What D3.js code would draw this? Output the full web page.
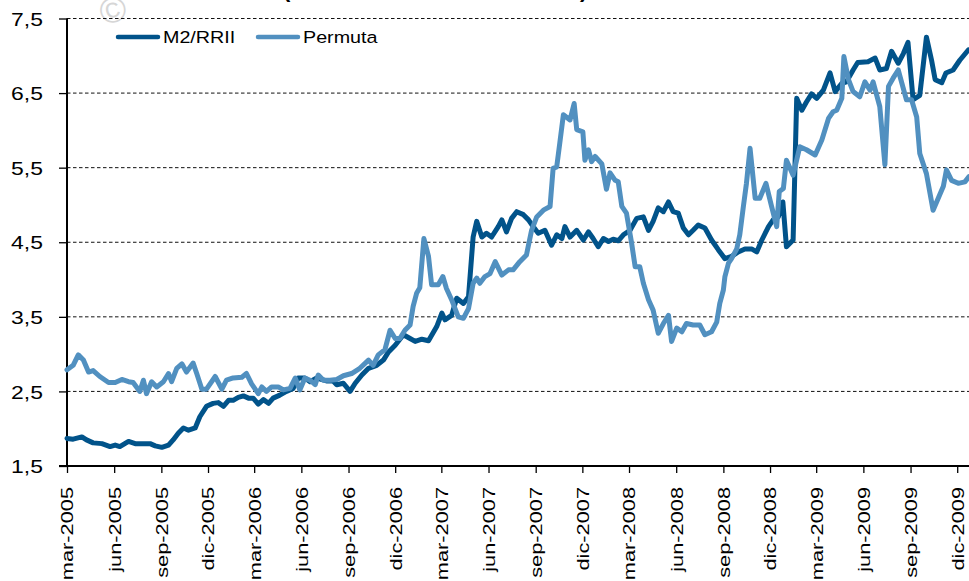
<!DOCTYPE html>
<html lang="es">
<head>
<meta charset="UTF-8">
<title>M2/RRII y Permuta</title>
<script src="https://d3js.org/d3.v7.min.js"></script>
<style>
  body { margin: 0; background: #fff; }
  svg { display: block; font-family: "Liberation Sans", Arial, sans-serif; }
</style>
</head>
<body>
<svg width="969" height="581"></svg>
<script>
// series names and colours (legend order)
const seriesNames = ["M2/RRII", "Permuta"];
const seriesColors = ["#01538a", "#5190c0"];

// M2/RRII
const m2Dates = ["2005-03-01","2005-03-13","2005-03-30","2005-04-08","2005-04-21","2005-05-08","2005-05-24","2005-06-03","2005-06-12","2005-06-29",
  "2005-07-12","2005-07-25","2005-08-10","2005-08-20","2005-09-02","2005-09-15","2005-09-24","2005-10-04","2005-10-14","2005-10-24",
  "2005-11-06","2005-11-15","2005-11-28","2005-12-11","2005-12-21","2005-12-31","2006-01-10","2006-01-19","2006-01-29","2006-02-08",
  "2006-02-18","2006-02-27","2006-03-09","2006-03-19","2006-03-29","2006-04-07","2006-04-20","2006-05-03","2006-05-16","2006-05-26",
  "2006-06-08","2006-06-18","2006-07-01","2006-07-20","2006-08-02","2006-08-09","2006-08-22","2006-09-04","2006-09-14","2006-09-27",
  "2006-10-10","2006-10-26","2006-11-08","2006-11-18","2006-12-01","2006-12-17","2006-12-30","2007-01-09","2007-01-22","2007-02-04",
  "2007-02-20","2007-03-02","2007-03-08","2007-03-21","2007-03-31","2007-04-13","2007-04-23","2007-05-02","2007-05-09","2007-05-19",
  "2007-05-28","2007-06-07","2007-06-20","2007-06-27","2007-07-06","2007-07-16","2007-07-26","2007-08-08","2007-08-18","2007-08-27",
  "2007-09-06","2007-09-19","2007-10-02","2007-10-12","2007-10-22","2007-10-28","2007-11-07","2007-11-20","2007-12-03","2007-12-13",
  "2007-12-22","2008-01-01","2008-01-11","2008-01-21","2008-01-30","2008-02-09","2008-02-19","2008-03-03","2008-03-16","2008-03-29",
  "2008-04-08","2008-04-17","2008-04-27","2008-05-07","2008-05-17","2008-05-26","2008-06-05","2008-06-15","2008-06-25","2008-07-04",
  "2008-07-14","2008-07-27","2008-08-09","2008-08-22","2008-09-04","2008-09-17","2008-09-30","2008-10-13","2008-10-26","2008-11-05",
  "2008-11-15","2008-11-28","2008-12-07","2008-12-17","2008-12-26","2009-01-02","2009-01-15","2009-01-22","2009-02-01","2009-02-10",
  "2009-02-20","2009-03-02","2009-03-15","2009-03-28","2009-04-07","2009-04-20","2009-04-29","2009-05-12","2009-05-21","2009-06-10",
  "2009-06-24","2009-07-03","2009-07-16","2009-07-26","2009-08-08","2009-08-18","2009-08-27","2009-09-06","2009-09-19","2009-10-02",
  "2009-10-12","2009-10-19","2009-11-01","2009-11-09","2009-11-23","2009-12-06","2009-12-23"];
const m2Values = [1.87,1.86,1.89,1.85,1.81,1.80,1.76,1.78,1.76,1.83,
  1.80,1.80,1.80,1.77,1.75,1.78,1.85,1.94,2.01,1.98,
  2.01,2.16,2.30,2.34,2.35,2.30,2.38,2.38,2.42,2.44,
  2.41,2.41,2.33,2.39,2.34,2.41,2.45,2.50,2.54,2.68,
  2.68,2.63,2.68,2.64,2.64,2.59,2.61,2.50,2.61,2.72,
  2.81,2.85,2.92,3.03,3.12,3.26,3.21,3.17,3.20,3.18,
  3.37,3.55,3.46,3.52,3.75,3.68,3.77,4.57,4.78,4.57,
  4.62,4.57,4.71,4.80,4.64,4.82,4.91,4.87,4.80,4.71,
  4.62,4.66,4.46,4.60,4.55,4.71,4.57,4.66,4.53,4.64,
  4.55,4.44,4.55,4.51,4.54,4.52,4.60,4.66,4.82,4.84,
  4.66,4.78,4.96,4.91,5.04,4.91,4.89,4.69,4.60,4.66,
  4.73,4.69,4.53,4.40,4.28,4.31,4.37,4.41,4.41,4.37,
  4.53,4.71,4.80,4.84,5.04,4.44,4.53,6.43,6.27,6.38,
  6.49,6.43,6.54,6.77,6.52,6.63,6.65,6.81,6.91,6.92,
  6.97,6.81,6.83,7.06,6.90,7.03,7.18,6.41,6.47,7.25,
  6.94,6.68,6.64,6.77,6.81,6.94,7.08];

// Permuta
const permDates = ["2005-03-01","2005-03-13","2005-03-23","2005-04-02","2005-04-12","2005-04-21","2005-05-04","2005-05-21","2005-06-03","2005-06-16",
  "2005-06-29","2005-07-08","2005-07-21","2005-07-28","2005-08-03","2005-08-13","2005-08-23","2005-09-05","2005-09-15","2005-09-21",
  "2005-10-01","2005-10-11","2005-10-20","2005-11-02","2005-11-09","2005-11-19","2005-11-28","2005-12-15","2005-12-28","2006-01-06",
  "2006-01-19","2006-02-05","2006-02-14","2006-02-24","2006-03-09","2006-03-16","2006-03-25","2006-04-04","2006-04-17","2006-04-27",
  "2006-05-10","2006-05-20","2006-05-29","2006-06-08","2006-06-18","2006-06-28","2006-07-04","2006-07-14","2006-07-27","2006-08-09",
  "2006-08-22","2006-09-07","2006-09-23","2006-10-10","2006-10-19","2006-10-29","2006-11-11","2006-11-21","2006-12-01","2006-12-10",
  "2006-12-20","2006-12-30","2007-01-05","2007-01-12","2007-01-18","2007-01-26","2007-02-04","2007-02-10","2007-02-23","2007-03-04",
  "2007-03-11","2007-03-21","2007-04-03","2007-04-13","2007-04-23","2007-05-02","2007-05-09","2007-05-15","2007-05-25","2007-06-04",
  "2007-06-14","2007-06-27","2007-07-10","2007-07-19","2007-08-01","2007-08-14","2007-08-24","2007-09-03","2007-09-16","2007-09-29",
  "2007-10-05","2007-10-12","2007-10-18","2007-10-25","2007-11-07","2007-11-15","2007-11-20","2007-12-02","2007-12-06","2007-12-13",
  "2007-12-19","2007-12-26","2008-01-08","2008-01-17","2008-01-24","2008-02-03","2008-02-09","2008-02-16","2008-02-25","2008-03-06",
  "2008-03-13","2008-03-22","2008-03-29","2008-04-08","2008-04-17","2008-04-27","2008-05-07","2008-05-17","2008-05-23","2008-06-02",
  "2008-06-12","2008-06-21","2008-07-04","2008-07-17","2008-07-27","2008-08-09","2008-08-19","2008-08-25","2008-09-01","2008-09-04",
  "2008-09-11","2008-09-17","2008-09-27","2008-10-03","2008-10-10","2008-10-16","2008-10-23","2008-11-02","2008-11-11","2008-11-23",
  "2008-12-04","2008-12-14","2008-12-19","2008-12-27","2009-01-02","2009-01-15","2009-01-28","2009-02-10","2009-02-27","2009-03-12",
  "2009-03-25","2009-04-03","2009-04-10","2009-04-20","2009-04-24","2009-05-03","2009-05-12","2009-05-25","2009-06-04","2009-06-14",
  "2009-06-20","2009-07-03","2009-07-13","2009-07-20","2009-07-29","2009-08-08","2009-08-24","2009-09-03","2009-09-13","2009-09-19",
  "2009-10-02","2009-10-15","2009-11-04","2009-11-10","2009-11-20","2009-12-03","2009-12-16","2009-12-24"];
const permValues = [2.79,2.85,2.99,2.92,2.76,2.78,2.70,2.62,2.62,2.66,
  2.63,2.62,2.50,2.65,2.47,2.63,2.56,2.63,2.74,2.63,
  2.81,2.87,2.76,2.88,2.74,2.53,2.53,2.70,2.53,2.65,
  2.68,2.69,2.74,2.60,2.47,2.56,2.50,2.56,2.56,2.52,
  2.54,2.68,2.52,2.68,2.65,2.59,2.72,2.65,2.65,2.66,
  2.71,2.74,2.81,2.92,2.85,2.99,3.06,3.32,3.21,3.21,
  3.32,3.39,3.64,3.82,3.89,4.55,4.31,3.93,3.93,4.04,
  3.88,3.73,3.50,3.48,3.61,3.95,4.02,3.95,4.04,4.08,
  4.24,4.06,4.13,4.13,4.24,4.33,4.66,4.84,4.93,4.98,
  5.49,5.51,5.83,6.21,6.14,6.36,6.01,5.98,5.60,5.74,
  5.58,5.65,5.55,5.21,5.43,5.33,5.31,4.98,4.89,4.49,
  4.17,4.17,3.95,3.73,3.59,3.28,3.41,3.52,3.17,3.35,
  3.30,3.41,3.39,3.39,3.26,3.30,3.43,3.68,3.86,4.04,
  4.22,4.28,4.41,4.60,4.98,5.29,5.76,5.09,5.09,5.29,
  4.98,4.71,5.18,5.22,5.60,5.40,5.78,5.74,5.67,5.87,
  6.16,6.25,6.27,6.43,6.99,6.68,6.52,6.45,6.65,6.54,
  6.65,6.32,5.54,6.59,6.70,6.81,6.41,6.41,6.18,5.69,
  5.42,4.93,5.25,5.47,5.33,5.29,5.31,5.38];

// axis ticks
const yTicks = [1.5, 2.5, 3.5, 4.5, 5.5, 6.5, 7.5];
const xTickDates = ["2005-03-01","2005-06-01","2005-09-01","2005-12-01","2006-03-01","2006-06-01","2006-09-01","2006-12-01",
  "2007-03-01","2007-06-01","2007-09-01","2007-12-01","2008-03-01","2008-06-01","2008-09-01","2008-12-01",
  "2009-03-01","2009-06-01","2009-09-01","2009-12-01"];
const monthNames = ["ene","feb","mar","abr","may","jun","jul","ago","sep","oct","nov","dic"];

const parse = d3.timeParse("%Y-%m-%d");
const width = 969, height = 581;
const margin = {top: 18.5, right: 0, bottom: 115, left: 67};

const svg = d3.select("svg");

const x = d3.scaleTime()
  .domain([parse("2005-03-01"), parse("2009-12-24")])
  .range([margin.left, width - margin.right]);

const y = d3.scaleLinear()
  .domain([1.5, 7.5])
  .range([height - margin.bottom, margin.top]);

const series = [
  {name: seriesNames[0], color: seriesColors[0], data: m2Dates.map((d, i) => ({date: parse(d), value: m2Values[i]}))},
  {name: seriesNames[1], color: seriesColors[1], data: permDates.map((d, i) => ({date: parse(d), value: permValues[i]}))}
];

// copyright mark and the title's parentheses, cut off at the top as in the original
svg.append("text")
  .attr("transform", "translate(116,22) rotate(-15)")
  .attr("text-anchor", "middle")
  .attr("font-size", 36)
  .attr("fill", "#d6d6d6")
  .text("\u00a9");
svg.append("text").attr("x", 283).attr("y", -3).attr("font-size", 22).attr("font-weight", "bold").text("(");
svg.append("text").attr("x", 580).attr("y", -3).attr("font-size", 22).attr("font-weight", "bold").text(")");

// dashed gridlines
svg.append("g")
  .selectAll("line")
  .data(yTicks.slice(1))
  .join("line")
  .attr("x1", margin.left)
  .attr("x2", width)
  .attr("y1", d => y(d))
  .attr("y2", d => y(d))
  .attr("stroke", "#111")
  .attr("stroke-width", 1)
  .attr("stroke-dasharray", "3.5,2.5");

// Y axis
const yAxis = svg.append("g")
  .attr("transform", `translate(${margin.left},0)`)
  .call(d3.axisLeft(y).tickValues(yTicks).tickSize(8)
    .tickFormat(d => d3.format(".1f")(d).replace(".", ",")));
yAxis.select(".domain").remove();
yAxis.selectAll(".tick line").attr("stroke", "#000").attr("stroke-width", 1.3);
yAxis.selectAll(".tick text")
  .attr("x", 0)
  .attr("dy", "0.36em")
  .attr("transform", "translate(-24,0) scale(1.24,1)")
  .attr("font-family", "Liberation Sans, Arial, sans-serif")
  .attr("font-size", 18.5)
  .attr("fill", "#000");

// X axis
const xAxis = svg.append("g")
  .attr("transform", `translate(0,${y(1.5)})`)
  .call(d3.axisBottom(x).tickValues(xTickDates.map(parse)).tickSize(7)
    .tickFormat(d => monthNames[d.getMonth()] + "-" + d.getFullYear()));
xAxis.select(".domain").remove();
xAxis.selectAll(".tick line").attr("stroke", "#000").attr("stroke-width", 1.3);
xAxis.selectAll(".tick text")
  .attr("x", 0)
  .attr("y", 0)
  .attr("dy", "0.36em")
  .attr("text-anchor", "end")
  .attr("transform", "translate(0,21) rotate(-90) scale(1.32,1)")
  .attr("font-family", "Liberation Sans, Arial, sans-serif")
  .attr("font-size", 16.5)
  .attr("fill", "#000");

// axis lines
svg.append("line")
  .attr("x1", margin.left).attr("x2", margin.left)
  .attr("y1", y(7.5)).attr("y2", y(1.5))
  .attr("stroke", "#000").attr("stroke-width", 2);
svg.append("line")
  .attr("x1", margin.left - 8).attr("x2", width)
  .attr("y1", y(1.5)).attr("y2", y(1.5))
  .attr("stroke", "#000").attr("stroke-width", 2);

// lines
const line = d3.line()
  .x(d => x(d.date))
  .y(d => y(d.value));

svg.append("g")
  .selectAll("path")
  .data(series)
  .join("path")
  .attr("fill", "none")
  .attr("stroke", d => d.color)
  .attr("stroke-width", 5)
  .attr("stroke-linejoin", "round")
  .attr("stroke-linecap", "round")
  .attr("d", d => line(d.data));

// legend
const legendX = [118, 258];
const legend = svg.append("g")
  .selectAll("g")
  .data(series)
  .join("g")
  .attr("transform", (d, i) => `translate(${legendX[i]},37)`);
legend.append("line")
  .attr("x1", 0).attr("x2", 40)
  .attr("stroke", d => d.color)
  .attr("stroke-width", 4.5)
  .attr("stroke-linecap", "round");
legend.append("text")
  .attr("transform", "translate(45,0) scale(1.18,1)")
  .attr("dy", "0.36em")
  .attr("font-size", 16.7)
  .attr("fill", "#000")
  .text(d => d.name);
</script>
</body>
</html>
